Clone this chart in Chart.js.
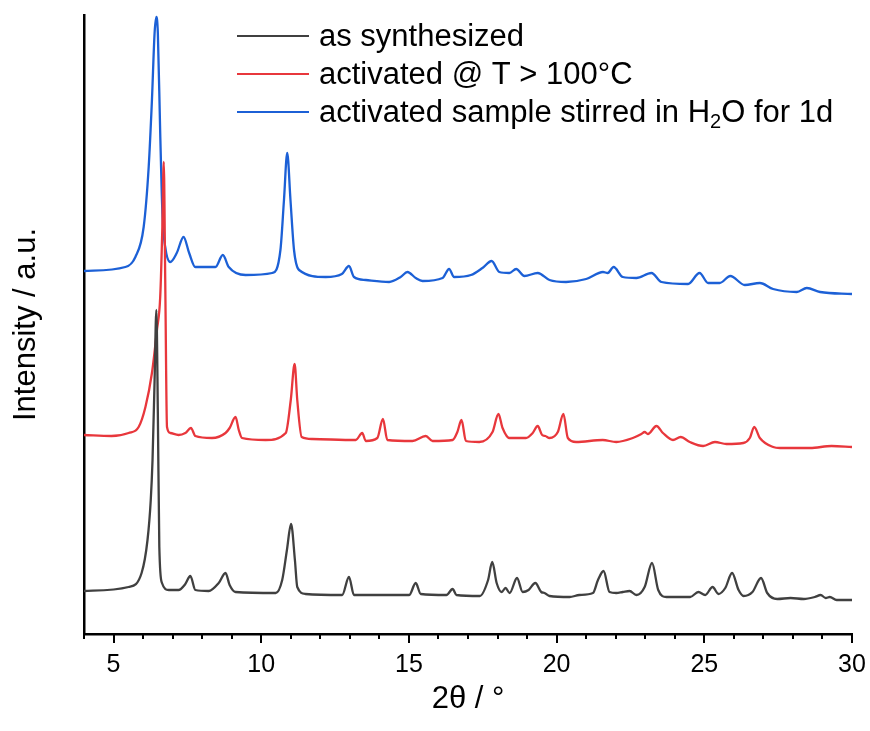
<!DOCTYPE html>
<html>
<head>
<meta charset="utf-8">
<title>PXRD patterns</title>
<script src="https://cdn.jsdelivr.net/npm/chart.js@4.4.1/dist/chart.umd.min.js"></script>
<style>
  html, body { margin: 0; padding: 0; background: #fff; }
  #wrap { width: 870px; height: 731px; }
</style>
</head>
<body>
<div id="wrap"><canvas id="xrd" width="870" height="731"></canvas></div>
<script>
// series labels
const seriesNames = ["as synthesized", "activated @ T > 100°C", "activated sample stirred in H₂O for 1d"];

// x tick labels (2theta)
const xTicks = [5, 10, 15, 20, 25, 30];

// [2theta, intensity (offset, a.u.)]
const asSynthesized = [
  [4.00, 43], [5.51, 47], [5.95, 61], [6.15, 94], [6.26, 134], [6.32, 174], [6.39, 254], [6.45, 324],
  [6.50, 221], [6.55, 87], [6.64, 51], [6.87, 44], [7.20, 44], [7.43, 50], [7.60, 58], [7.77, 44],
  [8.22, 43], [8.56, 51], [8.79, 61], [8.93, 49], [9.13, 42], [10.49, 41], [10.71, 54], [10.87, 84],
  [11.01, 110], [11.14, 74], [11.22, 47], [11.50, 40], [12.74, 39], [12.97, 57], [13.14, 39], [15.01, 39],
  [15.23, 51], [15.40, 40], [16.27, 39], [16.48, 45], [16.61, 39], [17.40, 38], [17.68, 54], [17.82, 72],
  [17.97, 51], [18.14, 42], [18.27, 46], [18.41, 41], [18.66, 56], [18.85, 42], [19.05, 44], [19.28, 51],
  [19.48, 42], [19.59, 41], [19.76, 38], [20.44, 37], [20.77, 39], [21.23, 41], [21.40, 54], [21.59, 63],
  [21.79, 42], [22.02, 41], [22.24, 42], [22.47, 43], [22.70, 39], [22.98, 47], [23.23, 71], [23.44, 44],
  [23.72, 37], [24.52, 37], [24.80, 42], [25.03, 39], [25.28, 47], [25.48, 40], [25.71, 46], [25.94, 61],
  [26.16, 44], [26.33, 38], [26.63, 42], [26.92, 56], [27.13, 41], [27.47, 35], [27.92, 36], [28.37, 35],
  [28.74, 37], [28.94, 39], [29.11, 36], [29.25, 37], [29.48, 34], [30.00, 34]
];

const activated = [
  [4.00, 199], [4.93, 198], [5.51, 201], [5.85, 207], [6.08, 227], [6.30, 261], [6.47, 304], [6.58, 337],
  [6.65, 404], [6.70, 472], [6.75, 354], [6.81, 207], [6.92, 201], [7.20, 199], [7.43, 201], [7.62, 206],
  [7.77, 198], [8.33, 196], [8.79, 201], [8.93, 206], [9.13, 217], [9.24, 204], [9.35, 196], [10.15, 194],
  [10.83, 201], [11.00, 234], [11.13, 270], [11.22, 234], [11.37, 197], [11.73, 195], [13.20, 194], [13.42, 201],
  [13.54, 193], [13.93, 196], [14.12, 215], [14.27, 194], [15.12, 193], [15.57, 198], [15.80, 193], [16.48, 194],
  [16.64, 202], [16.78, 214], [16.93, 193], [17.38, 192], [17.83, 202], [18.03, 220], [18.17, 206], [18.40, 196],
  [18.96, 196], [19.19, 201], [19.36, 208], [19.51, 199], [19.62, 198], [19.76, 196], [20.04, 202], [20.23, 220],
  [20.38, 196], [20.66, 192], [21.56, 194], [22.02, 192], [22.58, 196], [22.87, 200], [22.98, 202], [23.09, 200],
  [23.38, 208], [23.60, 201], [23.94, 194], [24.20, 197], [24.51, 192], [24.96, 188], [25.36, 192], [25.75, 190],
  [26.32, 191], [26.54, 196], [26.69, 207], [26.88, 196], [27.33, 187], [27.56, 186], [28.58, 186], [29.31, 188],
  [30.00, 187]
];

const stirred = [
  [4.00, 363], [5.40, 367], [5.74, 377], [6.02, 407], [6.19, 467], [6.30, 534], [6.39, 601], [6.45, 617],
  [6.50, 601], [6.58, 501], [6.66, 417], [6.75, 387], [6.92, 372], [7.14, 381], [7.37, 397], [7.56, 381],
  [7.77, 367], [8.45, 367], [8.70, 379], [8.90, 367], [9.47, 359], [10.37, 361], [10.65, 384], [10.77, 434],
  [10.88, 481], [10.99, 434], [11.11, 384], [11.28, 364], [12.18, 357], [12.73, 360], [12.97, 368], [13.14, 357],
  [13.54, 354], [14.33, 352], [14.72, 357], [14.95, 362], [15.23, 356], [15.46, 353], [16.14, 356], [16.36, 365],
  [16.53, 357], [17.10, 359], [17.49, 366], [17.80, 373], [18.06, 362], [18.40, 361], [18.63, 365], [18.91, 358],
  [19.36, 361], [19.76, 354], [20.32, 352], [21.00, 355], [21.57, 362], [21.73, 361], [21.93, 367], [22.24, 357],
  [22.70, 356], [23.21, 361], [23.55, 352], [24.45, 350], [24.84, 361], [25.13, 351], [25.52, 351], [25.88, 358],
  [26.37, 349], [26.88, 351], [27.33, 345], [28.13, 342], [28.47, 346], [28.92, 342], [30.00, 340]
];

const lineColors = ["#404040", "#e8373c", "#1c60d6"];

const FONT = "'Liberation Sans', Arial, sans-serif";

function toPoints(arr) {
  return arr.map(p => ({ x: p[0], y: p[1] }));
}

// minor + major ticks on the 2theta axis
const xTickMarks = {
  id: "xTickMarks",
  afterDraw(chart) {
    const sx = chart.scales.x;
    const ctx = chart.ctx;
    const base = chart.chartArea.bottom;
    ctx.save();
    ctx.strokeStyle = "#000";
    ctx.lineWidth = 2;
    for (let v = sx.min; v <= sx.max; v++) {
      const px = Math.round(sx.getPixelForValue(v));
      const len = v % 5 === 0 ? 9 : 5;
      ctx.beginPath();
      ctx.moveTo(px, base);
      ctx.lineTo(px, base + len);
      ctx.stroke();
    }
    ctx.restore();
  }
};

// legend drawn inside the plot, top right
const insideLegend = {
  id: "insideLegend",
  afterDraw(chart) {
    const ctx = chart.ctx;
    ctx.save();
    ctx.textBaseline = "middle";
    chart.data.datasets.forEach((ds, i) => {
      const y = 36 + i * 38;
      ctx.strokeStyle = ds.borderColor;
      ctx.lineWidth = 2;
      ctx.beginPath();
      ctx.moveTo(237, y);
      ctx.lineTo(309, y);
      ctx.stroke();

      ctx.fillStyle = "#000";
      let x = 319;
      const parts = ds.label.split("₂");
      parts.forEach((part, k) => {
        ctx.font = "31px " + FONT;
        ctx.fillText(part, x, y + 1);
        x += ctx.measureText(part).width;
        if (k < parts.length - 1) {
          ctx.font = "20px " + FONT;
          ctx.fillText("2", x, y + 10);
          x += ctx.measureText("2").width;
        }
      });
    });
    ctx.restore();
  }
};

new Chart(document.getElementById("xrd"), {
  type: "line",
  data: {
    datasets: [
      { label: seriesNames[0], data: toPoints(asSynthesized), borderColor: lineColors[0] },
      { label: seriesNames[1], data: toPoints(activated), borderColor: lineColors[1] },
      { label: seriesNames[2], data: toPoints(stirred), borderColor: lineColors[2] }
    ].map(ds => ({ ...ds, borderWidth: 2.3, pointRadius: 0, fill: false, cubicInterpolationMode: "monotone" }))
  },
  options: {
    responsive: false,
    devicePixelRatio: 1,
    animation: false,
    events: [],
    layout: { padding: { top: 15, right: 18, left: 0, bottom: 0 } },
    plugins: {
      legend: { display: false },
      tooltip: { enabled: false }
    },
    scales: {
      x: {
        type: "linear",
        min: 4,
        max: 30,
        afterBuildTicks: scale => { scale.ticks = xTicks.map(v => ({ value: v })); },
        afterFit: scale => {
          scale.height = 97;
          scale.paddingLeft = 0;
          scale.paddingRight = 0;
        },
        grid: { display: false, drawTicks: false },
        border: { display: true, color: "#000", width: 2.5 },
        ticks: {
          color: "#000",
          padding: 16,
          maxRotation: 0,
          font: { family: FONT, size: 25 }
        },
        title: {
          display: true,
          text: "2θ / °",
          color: "#000",
          font: { family: FONT, size: 31 },
          padding: { top: 0, bottom: 13 }
        }
      },
      y: {
        min: 0,
        max: 619,
        afterFit: scale => { scale.width = 84; },
        grid: { display: false, drawTicks: false },
        border: { display: true, color: "#000", width: 2.5 },
        ticks: { display: false },
        title: {
          display: true,
          text: "Intensity / a.u.",
          color: "#000",
          font: { family: FONT, size: 31 },
          padding: { top: 8, bottom: 0 }
        }
      }
    }
  },
  plugins: [xTickMarks, insideLegend]
});
</script>
</body>
</html>
